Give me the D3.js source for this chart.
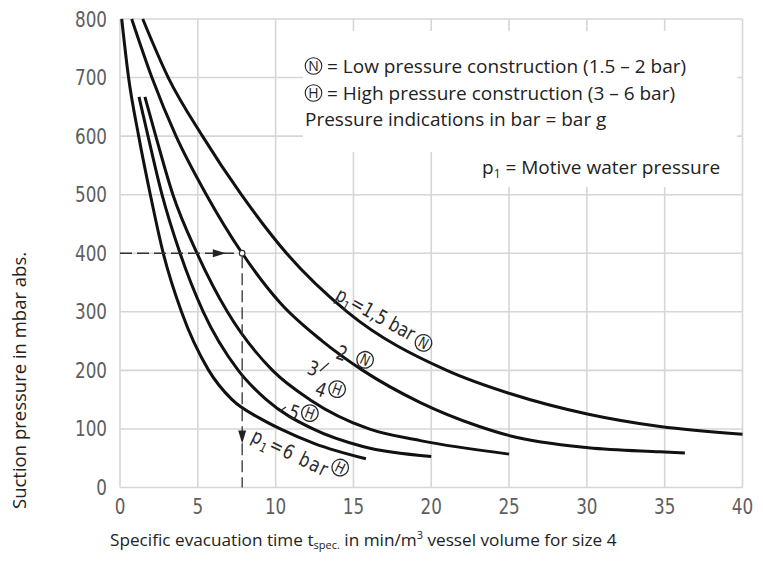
<!DOCTYPE html>
<html>
<head>
<meta charset="utf-8">
<script src="https://cdn.jsdelivr.net/npm/d3@7"></script>
<style>
  html, body { margin: 0; padding: 0; background: #fff; }
  svg { display: block; }
</style>
</head>
<body>
<svg id="chart" width="763" height="563"></svg>
<script>
// Axis ticks
const xTicks = [0, 5, 10, 15, 20, 25, 30, 35, 40];
const yTicks = [0, 100, 200, 300, 400, 500, 600, 700, 800];

// Evacuation curves: [t_spec (min/m³), suction pressure (mbar abs.)]
const curve1_5bar = [[1.46,800],[3.1,700],[5.3,600],[7.8,500],[10.7,400],[14.6,300],[21.0,200],[25.1,160],[30.1,125],[34.7,104],[40.0,91]];
const curve2bar   = [[0.75,800],[2.05,700],[3.6,600],[5.55,500],[7.85,400],[10.3,315],[13.0,250],[15.6,200],[19.3,145],[23.0,105],[25.1,88],[30.1,68],[34.7,61],[36.3,59]];
const curve3_4bar = [[1.6,667],[2.3,600],[3.4,500],[4.95,400],[6.9,300],[9.8,200],[12.2,150],[16.0,100],[19.3,80],[25.0,57]];
const curve5bar   = [[1.22,667],[1.8,600],[2.7,500],[3.86,400],[5.35,300],[7.6,200],[9.4,150],[12.4,100],[15.6,70],[20.0,53]];
const curve6bar   = [[0.11,800],[0.55,700],[1.2,600],[1.95,500],[2.78,400],[3.95,300],[5.7,200],[7.2,150],[9.0,118],[10.3,100],[12.5,75],[15.8,49]];

const curves = [curve1_5bar, curve2bar, curve3_4bar, curve5bar, curve6bar];

// Worked example: read-off point on the 2 bar curve
const examplePoint = [7.85, 400];

const legendLines = [
  { mark: "N", text: "= Low pressure construction (1.5 \u2013 2 bar)" },
  { mark: "H", text: "= High pressure construction (3 \u2013 6 bar)" },
  { mark: null, text: "Pressure indications in bar = bar g" }
];

const svg = d3.select("#chart");
const x = d3.scaleLinear().domain([0, 40]).range([120, 742.5]);
const y = d3.scaleLinear().domain([0, 800]).range([487.5, 19]);

const techFont = "'DejaVu Sans',sans-serif";
const textFont = "'Open Sans','Noto Sans',sans-serif";
const narrow = 0.8;   // horizontal squeeze for the drawing-office lettering

// Grid
const grid = svg.append("g").attr("stroke", "#d6d6d6").attr("stroke-width", 1.6);
grid.selectAll("line.v").data(xTicks).join("line")
  .attr("x1", d => x(d)).attr("x2", d => x(d))
  .attr("y1", y(0)).attr("y2", y(800));
grid.selectAll("line.h").data(yTicks).join("line")
  .attr("x1", x(0)).attr("x2", x(40))
  .attr("y1", d => y(d)).attr("y2", d => y(d));

// Tick labels
const axisText = svg.append("g").attr("font-family", techFont).attr("font-size", 21)
  .attr("fill", "#5e5e5e");
axisText.selectAll("text.y").data(yTicks).join("text")
  .attr("transform", d => `translate(${x(0) - 13},${y(d) + 7.5}) scale(${narrow},1)`)
  .attr("text-anchor", "end").text(d => d);
axisText.selectAll("text.x").data(xTicks).join("text")
  .attr("transform", d => `translate(${x(d)},${y(0) + 26}) scale(${narrow},1)`)
  .attr("text-anchor", "middle").text(d => d);

// Legend panels (cover the grid behind the notes)
svg.append("rect").attr("x", 303).attr("y", 31).attr("width", 434).attr("height", 121).attr("fill", "#fff");
svg.append("rect").attr("x", 474).attr("y", 151).attr("width", 263).attr("height", 36).attr("fill", "#fff");

// Curves
const line = d3.line().x(d => x(d[0])).y(d => y(d[1])).curve(d3.curveMonotoneX);
svg.append("g").selectAll("path").data(curves).join("path")
  .attr("d", line).attr("fill", "none").attr("stroke", "#111")
  .attr("stroke-width", 3).attr("stroke-linecap", "butt");

// Worked example: dashed read-off lines with arrows
const ex = svg.append("g").attr("stroke", "#333").attr("stroke-width", 1.3);
ex.append("line").attr("x1", x(0)).attr("x2", x(examplePoint[0]) - 3)
  .attr("y1", y(examplePoint[1])).attr("y2", y(examplePoint[1]))
  .attr("stroke-dasharray", "12,5");
ex.append("line").attr("x1", x(examplePoint[0])).attr("x2", x(examplePoint[0]))
  .attr("y1", y(examplePoint[1]) + 3).attr("y2", y(0))
  .attr("stroke-dasharray", "12,5");
const hx = x(6.8), hy = y(examplePoint[1]);
svg.append("path").attr("d", `M${hx},${hy} L${hx - 13},${hy - 4} L${hx - 13},${hy + 4} Z`).attr("fill", "#222");
const vx = x(examplePoint[0]), vy = y(75);
svg.append("path").attr("d", `M${vx},${vy} L${vx - 4},${vy - 13} L${vx + 4},${vy - 13} Z`).attr("fill", "#222");
svg.append("circle").attr("cx", x(examplePoint[0])).attr("cy", y(examplePoint[1])).attr("r", 2.8)
  .attr("fill", "#fff").attr("stroke", "#333").attr("stroke-width", 1.2);

// Curve labels
const lab = svg.append("g").attr("font-family", techFont).attr("font-size", 20)
  .attr("fill", "#2a2a2a");

function circled(g, cx, cy, letter, r, size, angle) {
  const c = g.append("g").attr("transform", `translate(${cx},${cy}) rotate(${angle})`);
  c.append("circle").attr("r", r).attr("fill", "#fff").attr("stroke", "#2a2a2a").attr("stroke-width", 1.3);
  c.append("text").attr("text-anchor", "middle").attr("y", size * 0.36)
    .attr("font-size", size).attr("transform", `scale(${narrow},1)`).text(letter);
}
function tag(g, px, py, angle, s) {
  g.append("text").attr("transform", `translate(${px},${py}) rotate(${angle}) scale(${narrow},1)`).text(s);
}
function pLabel(g, px, py, angle, rest, spacing) {
  const t = g.append("text").attr("transform", `translate(${px},${py}) rotate(${angle}) scale(${narrow},1)`)
    .attr("letter-spacing", spacing);
  t.append("tspan").text("p");
  t.append("tspan").attr("font-size", 13).attr("dy", 5).text("1");
  t.append("tspan").attr("dy", -5).text(rest);
}

pLabel(lab, x(13.75), y(322), 29, "=1,5 bar", 0);
circled(lab, x(19.5), y(247), "N", 8.3, 15, 28);

tag(lab, x(13.8), y(221), 20, "2");
circled(lab, x(15.75), y(218), "N", 8.3, 15, 25);

tag(lab, x(11.95), y(195), 20, "3");
lab.append("line").attr("x1", x(12.85)).attr("y1", y(199)).attr("x2", x(13.43)).attr("y2", y(212.6))
  .attr("stroke", "#2a2a2a").attr("stroke-width", 1.2);
tag(lab, x(12.45), y(159), 20, "4");
circled(lab, x(13.95), y(168), "H", 8.3, 15, 20);

lab.append("line").attr("x1", x(10.28)).attr("y1", y(130.6)).attr("x2", x(10.67)).attr("y2", y(137.5))
  .attr("stroke", "#2a2a2a").attr("stroke-width", 1.2);
tag(lab, x(10.73), y(120), 20, "5");
circled(lab, x(12.2), y(127), "H", 8.3, 15, 20);

pLabel(lab, x(8.35), y(80), 26, "=6 bar", 1.8);
circled(lab, x(14.15), y(34), "H", 8.3, 15, 26);

// Legend notes
const leg = svg.append("g").attr("font-family", textFont).attr("font-size", 19).attr("fill", "#222");
legendLines.forEach((d, i) => {
  const base = [72.5, 99.5, 126][i];
  if (d.mark) {
    leg.append("circle").attr("cx", 313.5).attr("cy", base - 6.5).attr("r", 8.3)
      .attr("fill", "none").attr("stroke", "#222").attr("stroke-width", 1.1);
    leg.append("text").attr("x", 313.5).attr("y", base - 1.3).attr("text-anchor", "middle")
      .attr("font-size", 14).text(d.mark);
    leg.append("text").attr("x", 327).attr("y", base).text(d.text);
  } else {
    leg.append("text").attr("x", 305).attr("y", base).text(d.text);
  }
});
const p1 = leg.append("text").attr("x", 482).attr("y", 174);
p1.append("tspan").text("p");
p1.append("tspan").attr("font-size", 12).attr("dy", 4).text("1");
p1.append("tspan").attr("dy", -4).text(" = Motive water pressure");

// Axis titles
const yTitle = svg.append("text").attr("font-family", textFont).attr("font-size", 18.5).attr("fill", "#222")
  .attr("transform", "translate(26,509) rotate(-90)");
yTitle.text("Suction pressure in mbar abs.");

const xTitle = svg.append("text").attr("font-family", textFont).attr("font-size", 17.2).attr("fill", "#222")
  .attr("x", 110).attr("y", 546);
xTitle.append("tspan").text("Specific evacuation time t");
xTitle.append("tspan").attr("font-size", 11).attr("dy", 3).text("spec.");
xTitle.append("tspan").attr("dy", -3).text(" in min/m");
xTitle.append("tspan").attr("font-size", 11).attr("dy", -7).text("3");
xTitle.append("tspan").attr("dy", 7).text(" vessel volume for size 4");
</script>
</body>
</html>
